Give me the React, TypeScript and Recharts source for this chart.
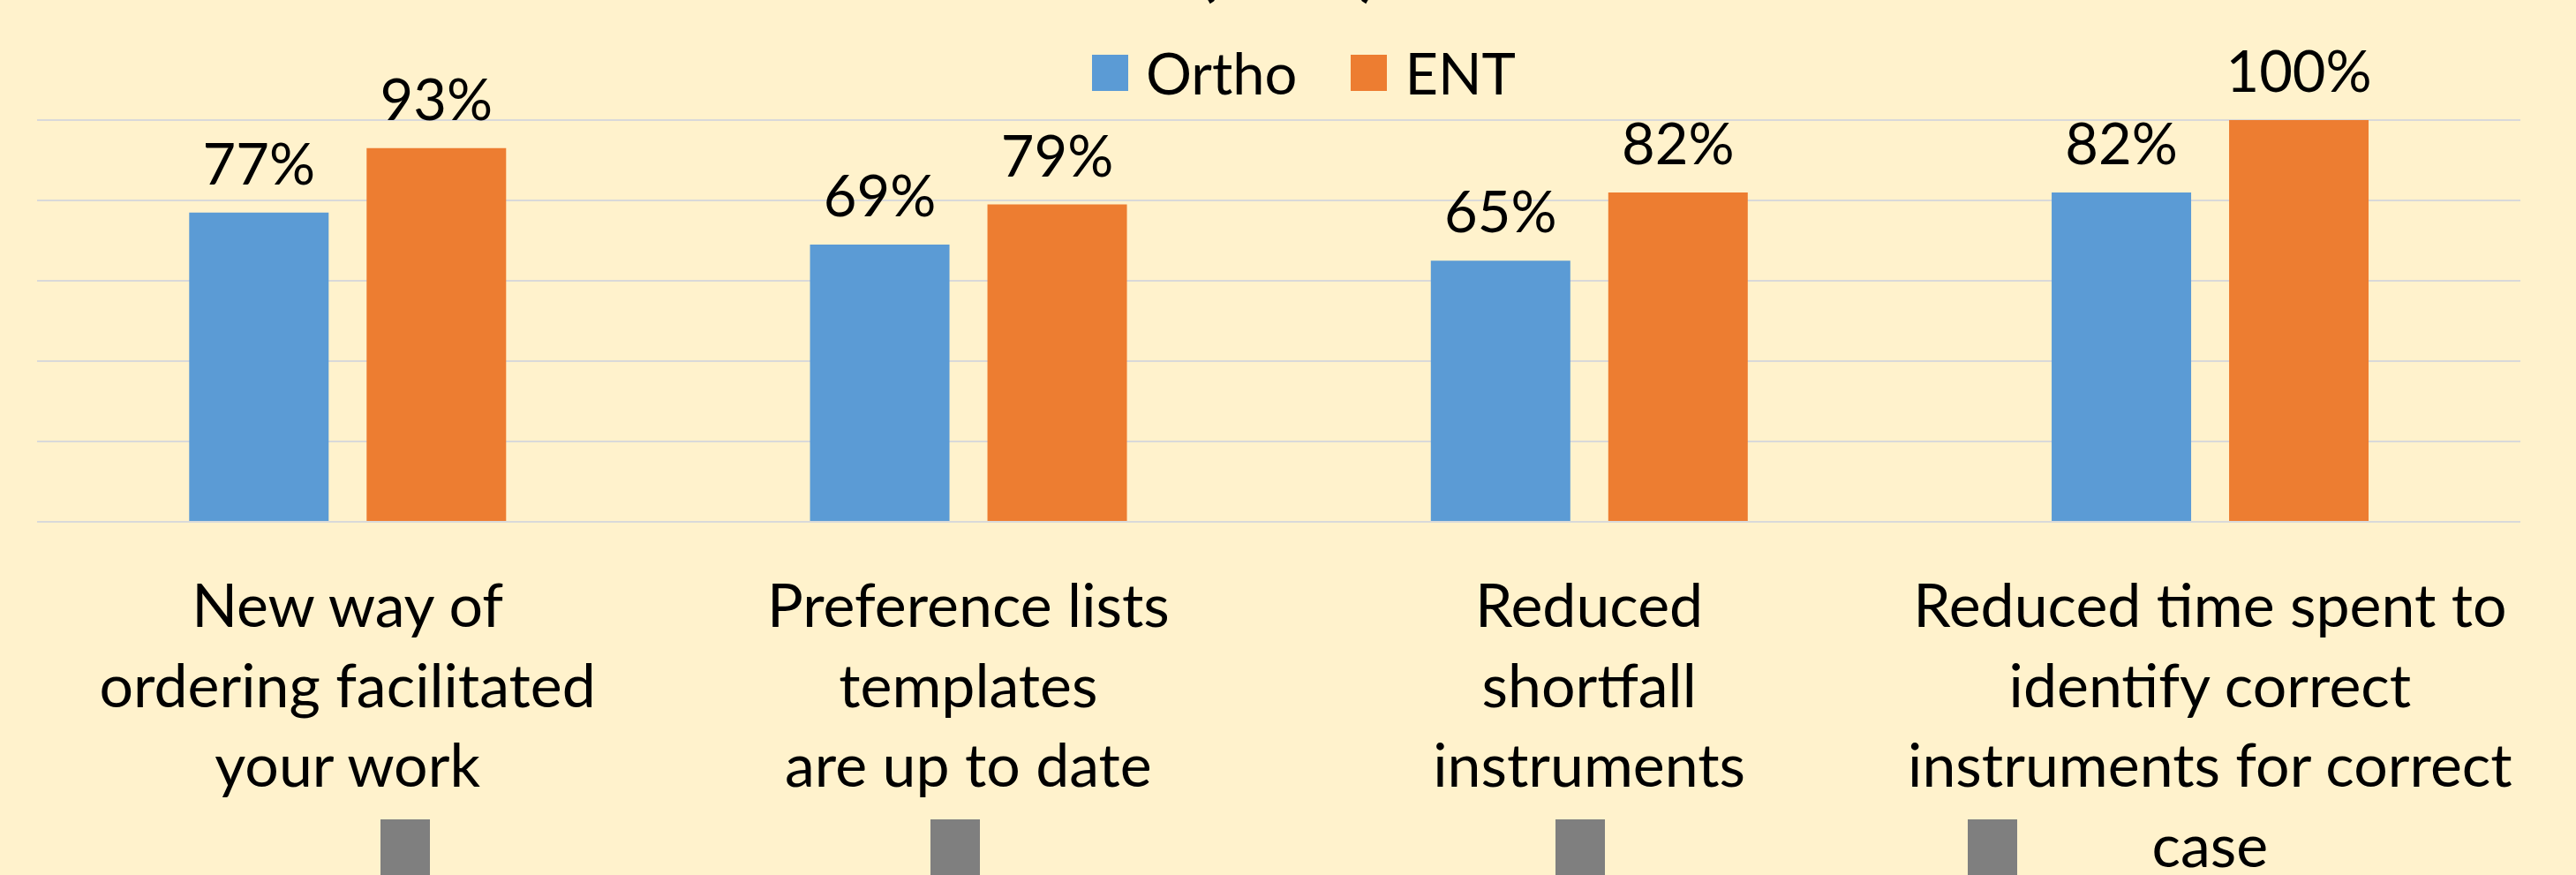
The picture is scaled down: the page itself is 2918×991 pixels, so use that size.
import { BarChart, Bar, XAxis, YAxis, CartesianGrid, LabelList, Customized } from "recharts";

const categories = [
  ["New way of", "ordering facilitated", "your work"],
  ["Preference lists", "templates", "are up to date"],
  ["Reduced", "shortfall", "instruments"],
  ["Reduced time spent to", "identify correct", "instruments for correct", "case"],
];
const orthoValues = [77, 69, 65, 82];
const entValues = [93, 79, 82, 100];
const seriesNames = ["Ortho", "ENT"];
const seriesColors = ["#5B9BD5", "#ED7D31"];
const yTicks = [0, 20, 40, 60, 80, 100];
const chartTitle = "(2019)";

const data = categories.map((lines, i) => ({
  name: lines.join(" "),
  ortho: orthoValues[i],
  ent: entValues[i],
}));

const FONT = "Lato, 'Open Sans', sans-serif";
const BG = "#FFF2CC";

// grey blocks peeking in at the bottom edge (cut off in the original)
const greyBlockX = [431, 1054, 1762, 2229];

function CategoryTick({ x, y, payload }: any) {
  const lines = categories[payload.index] || [];
  return (
    <text x={x} y={y} textAnchor="middle" fontFamily={FONT} fontSize={68} fill="#000">
      {lines.map((l, i) => (
        <tspan key={i} x={x} dy={i === 0 ? 119 : 90.5}>
          {l}
        </tspan>
      ))}
    </text>
  );
}

function Extras() {
  return (
    <g>
      <text x={1459} y={-7} textAnchor="middle" fontFamily={FONT} fontWeight="bold" fontSize={70} fill="#000">
        {chartTitle}
      </text>
      {greyBlockX.map((gx) => (
        <rect key={gx} x={gx} y={928} width={56} height={80} fill="#7F7F7F" />
      ))}
    </g>
  );
}

export default function App() {
  return (
    <div style={{ position: "relative", width: 2918, height: 991, background: BG, overflow: "hidden" }}>
      <style>{`body{margin:0;background:${BG}}`}</style>
      <BarChart
        width={2918}
        height={991}
        data={data}
        margin={{ top: 136, right: 63, left: 42, bottom: 0 }}
        barCategoryGap="24.5%"
        barGap={43}
      >
        <CartesianGrid vertical={false} stroke="#D9D9D9" strokeWidth={2} />
        <YAxis hide domain={[0, 100]} ticks={yTicks} width={0} />
        <XAxis
          dataKey="name"
          height={400}
          tickLine={false}
          tickSize={0}
          tickMargin={0}
          interval={0}
          axisLine={{ stroke: "#D9D9D9", strokeWidth: 2 }}
          tick={<CategoryTick />}
        />
        <Bar dataKey="ortho" name={seriesNames[0]} fill={seriesColors[0]} isAnimationActive={false}>
          <LabelList
            dataKey="ortho"
            position="top"
            offset={32}
            fill="#000"
            formatter={(v: any) => `${v}%`}
            style={{ fontFamily: FONT, fontSize: 65 }}
          />
        </Bar>
        <Bar dataKey="ent" name={seriesNames[1]} fill={seriesColors[1]} isAnimationActive={false}>
          <LabelList
            dataKey="ent"
            position="top"
            offset={32}
            fill="#000"
            formatter={(v: any) => `${v}%`}
            style={{ fontFamily: FONT, fontSize: 65 }}
          />
        </Bar>
        <Customized component={<Extras />} />
      </BarChart>

      {/* legend */}
      <div
        style={{
          position: "absolute",
          top: 43,
          left: 0,
          width: 2918,
          paddingLeft: 36,
          boxSizing: "border-box",
          display: "flex",
          justifyContent: "center",
          alignItems: "center",
          fontFamily: FONT,
          fontSize: 65,
          lineHeight: "78px",
        }}
      >
        {seriesNames.map((n, i) => (
          <div key={n} style={{ display: "flex", alignItems: "center", marginRight: i === 0 ? 61 : 0 }}>
            <span style={{ width: 41, height: 41, background: seriesColors[i], marginRight: 20, display: "inline-block" }} />
            <span>{n}</span>
          </div>
        ))}
      </div>
    </div>
  );
}
